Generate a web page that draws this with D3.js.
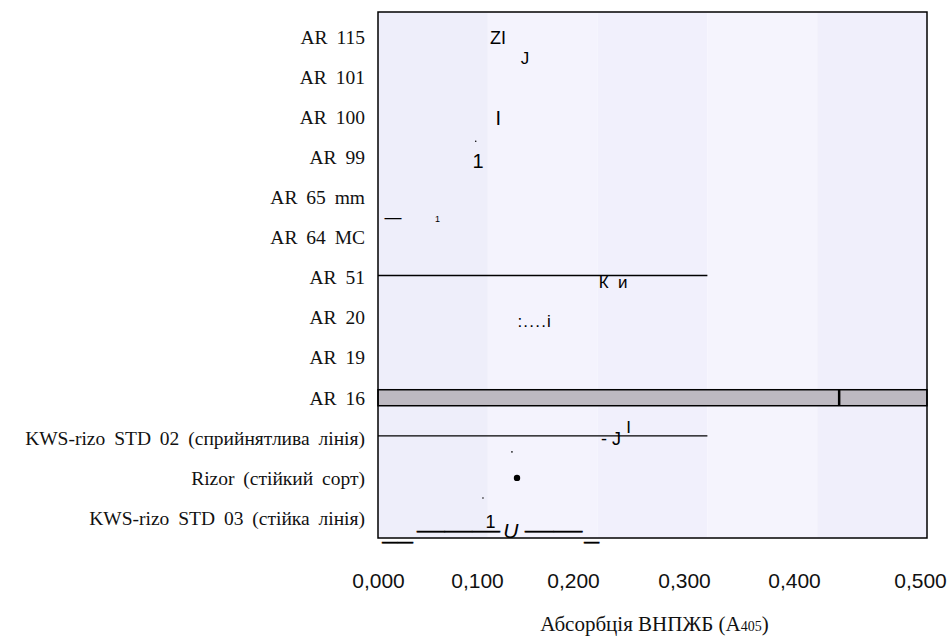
<!DOCTYPE html>
<html>
<head>
<meta charset="utf-8">
<script src="https://cdn.jsdelivr.net/npm/d3@7"></script>
<style>
  body { margin: 0; background: #fff; }
  svg text { white-space: pre; }
</style>
</head>
<body>
<svg id="chart" width="950" height="636"></svg>
<script>
// categories, top to bottom
const categories = [
  "AR 115", "AR 101", "AR 100", "AR 99", "AR 65 mm", "AR 64 MC", "AR 51",
  "AR 20", "AR 19", "AR 16",
  "KWS-rizo STD 02 (сприйнятлива лінія)",
  "Rizor (стійкий сорт)",
  "KWS-rizo STD 03 (стійка лінія)"
];

// bars (AR 16 is a filled bar, the other two only show as thin lines)
const barCategories = ["AR 51", "AR 16", "KWS-rizo STD 02 (сприйнятлива лінія)"];
const barValues = [0.30, 0.50, 0.30];

// error mark
const errorCategories = ["AR 16"];
const errorValues = [0.42];

// stray points
const pointCategories = ["AR 99", "Rizor (стійкий сорт)", "Rizor (стійкий сорт)", "KWS-rizo STD 03 (стійка лінія)"];
const pointValues = [0.089, 0.122, 0.1266, 0.0956];

// leftover text marks in the plot
const noteTexts = ["ZI", "J", "I", "1", "—", "1", "К  и", ":....i", "- J", "I", "1", "U", "———", "——", "——", "—"];
const noteRows = ["AR 115", "AR 101", "AR 100", "AR 99", "AR 65 mm", "AR 65 mm", "AR 51", "AR 20",
  "KWS-rizo STD 02 (сприйнятлива лінія)", "KWS-rizo STD 02 (сприйнятлива лінія)",
  "KWS-rizo STD 03 (стійка лінія)", "KWS-rizo STD 03 (стійка лінія)", "KWS-rizo STD 03 (стійка лінія)",
  "KWS-rizo STD 03 (стійка лінія)", "KWS-rizo STD 03 (стійка лінія)", "KWS-rizo STD 03 (стійка лінія)"];
const noteValues = [0.102, 0.130, 0.107, 0.086, 0.006, 0.052, 0.201, 0.127, 0.203, 0.226, 0.098, 0.114, 0.0355, 0.134, 0.0036, 0.1876];
const noteEnds = [null, null, null, null, null, null, null, null, null, null, null, null, 0.111, 0.186, 0.032, 0.2015];

const xTicks = [0, 0.1, 0.2, 0.3, 0.4, 0.5];
const xTitle = "Абсорбція ВНПЖБ (A";
const xTitleSub = "405";

// ---- layout ----
const plot = { left: 378, top: 12, right: 927, bottom: 538 };
const sans = "'Liberation Sans', Arimo, Arial, sans-serif";
const serif = "'Liberation Serif', Tinos, 'DejaVu Serif', serif";

// offsets / sizes for each note (baseline shift from row centre)
const noteStyle = [
  { dy: 7, size: 18 }, { dy: -13, size: 17 }, { dy: 8, size: 20 }, { dy: 11, size: 20 },
  { dy: 26, size: 17 }, { dy: 25, size: 9 }, { dy: 10, size: 17 }, { dy: 9, size: 17, ls: 1.2 },
  { dy: 7, size: 18 }, { dy: -5, size: 17 }, { dy: 10, size: 18 }, { dy: 20, size: 21, italic: true },
  { dy: 18.5, size: 17, dash: true }, { dy: 18.5, size: 17, dash: true },
  { dy: 29.5, size: 17, dash: true }, { dy: 29.5, size: 17, dash: true }
];

const svg = d3.select("#chart");

const x = d3.scaleLinear().domain([0, 0.5]).range([plot.left, plot.right]);
const y = d3.scaleBand().domain(categories).range([plot.top + 5, plot.bottom]);
const yc = c => y(c) + y.bandwidth() / 2;

// shaded background strips
const stripColors = ["#eeeefa", "#f4f3fd", "#f1f0fc", "#f5f4fd", "#f0effb"];
svg.append("g").selectAll("rect")
  .data(xTicks.slice(0, -1))
  .enter().append("rect")
  .attr("x", d => x(d))
  .attr("y", plot.top)
  .attr("width", d => x(d + 0.1) - x(d))
  .attr("height", plot.bottom - plot.top)
  .style("fill", (d, i) => stripColors[i]);

// bars / lines
const bars = barCategories.map((c, i) => ({ cat: c, value: barValues[i] }));
svg.append("g").selectAll("rect")
  .data(bars.filter(d => d.cat === "AR 16"))
  .enter().append("rect")
  .attr("x", x(0))
  .attr("y", d => yc(d.cat) - 8)
  .attr("width", d => x(d.value) - x(0))
  .attr("height", 16)
  .style("fill", "#bdb9c1")
  .style("stroke", "#000")
  .style("stroke-width", 1.5);

svg.append("g").selectAll("line")
  .data(bars.filter(d => d.cat !== "AR 16"))
  .enter().append("line")
  .attr("x1", x(0))
  .attr("x2", d => x(d.value))
  .attr("y1", d => yc(d.cat) - 2)
  .attr("y2", d => yc(d.cat) - 2)
  .style("stroke", "#000")
  .style("stroke-width", 1.3);

// error mark
svg.append("g").selectAll("line")
  .data(errorCategories.map((c, i) => ({ cat: c, value: errorValues[i] })))
  .enter().append("line")
  .attr("x1", d => x(d.value))
  .attr("x2", d => x(d.value))
  .attr("y1", d => yc(d.cat) - 8)
  .attr("y2", d => yc(d.cat) + 8)
  .style("stroke", "#000")
  .style("stroke-width", 2.5);

// points (tiny specks + one bullet)
const pointStyle = [{ dy: -16, r: 0.8 }, { dy: -26, r: 0.8 }, { dy: 0, r: 3.2 }, { dy: -20, r: 0.8 }];
svg.append("g").selectAll("circle")
  .data(pointCategories.map((c, i) => ({ cat: c, value: pointValues[i], s: pointStyle[i] })))
  .enter().append("circle")
  .attr("cx", d => x(d.value))
  .attr("cy", d => yc(d.cat) + d.s.dy)
  .attr("r", d => d.s.r)
  .style("fill", "#000");

// notes
svg.append("g").selectAll("text")
  .data(noteTexts.map((t, i) => ({ text: t, cat: noteRows[i], value: noteValues[i], end: noteEnds[i], s: noteStyle[i] })))
  .enter().append("text")
  .attr("x", d => x(d.value))
  .attr("y", d => yc(d.cat) + d.s.dy)
  .attr("textLength", d => d.end == null ? null : x(d.end) - x(d.value))
  .attr("lengthAdjust", d => d.end == null ? null : "spacingAndGlyphs")
  .style("font-family", sans)
  .style("font-size", d => d.s.size + "px")
  .style("font-style", d => d.s.italic ? "italic" : "normal")
  .style("letter-spacing", d => d.s.ls ? d.s.ls + "px" : null)
  .style("stroke", d => d.s.dash ? "#000" : null)
  .style("stroke-width", d => d.s.dash ? 0.5 : null)
  .style("fill", "#000")
  .text(d => d.text);

// plot frame
svg.append("rect")
  .attr("x", plot.left)
  .attr("y", plot.top)
  .attr("width", plot.right - plot.left)
  .attr("height", plot.bottom - plot.top)
  .style("fill", "none")
  .style("stroke", "#000")
  .style("stroke-width", 1.5);

// category labels
const yAxis = svg.append("g")
  .attr("transform", `translate(${plot.left - 13},0)`)
  .call(d3.axisLeft(y).tickSize(0).tickPadding(0));
yAxis.select(".domain").remove();
yAxis.attr("font-family", serif);
yAxis.selectAll("text")
  .attr("dy", "0.35em")
  .style("font-family", serif)
  .style("font-size", "19.5px")
  .style("word-spacing", "4px")
  .style("fill", "#111");

// tick labels: the original sets them a little unevenly, so the label scale is piecewise
const xLabel = d3.scaleLinear().domain(xTicks).range([378, 477, 573, 684, 794, 920]);
const xAxis = svg.append("g")
  .attr("transform", "translate(0,573)")
  .call(d3.axisBottom(xLabel).tickValues(xTicks).tickSize(0).tickPadding(0)
    .tickFormat(d => d3.format(".3f")(d).replace(".", ",")));
xAxis.select(".domain").remove();
xAxis.selectAll("text")
  .attr("dy", "0.71em")
  .style("font-family", sans)
  .style("font-size", "21px")
  .style("fill", "#111");

// axis title
const title = svg.append("text")
  .attr("x", (plot.left + plot.right) / 2 + 2)
  .attr("y", 631)
  .attr("text-anchor", "middle")
  .style("font-family", serif)
  .style("font-size", "21px")
  .style("fill", "#111");
title.append("tspan").text(xTitle);
title.append("tspan").style("font-size", "14px").text(xTitleSub);
title.append("tspan").text(")");
</script>
</body>
</html>
